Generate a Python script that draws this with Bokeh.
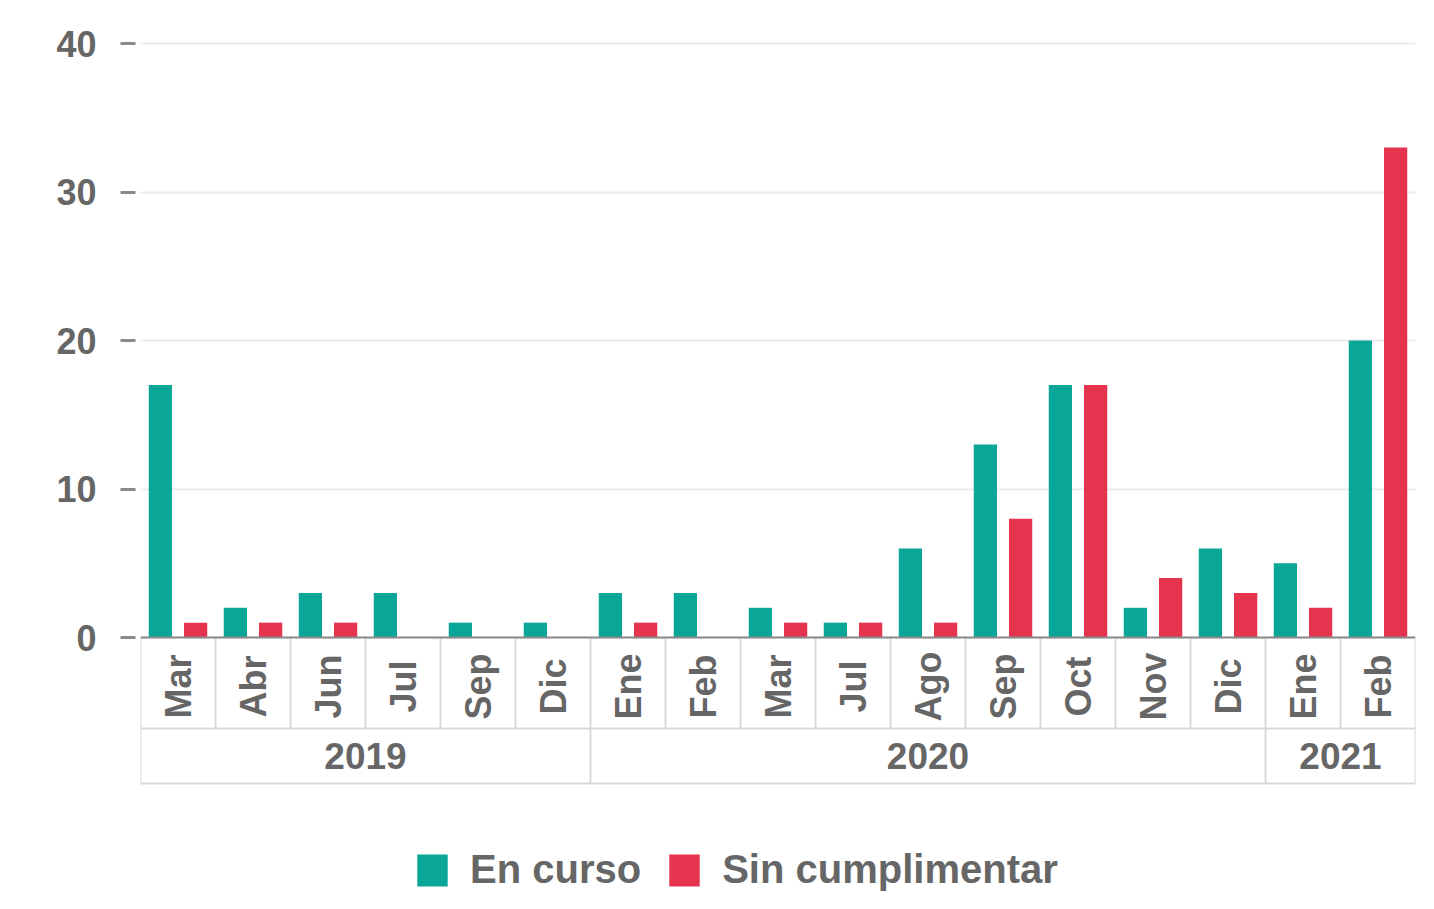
from math import pi
from bokeh.plotting import figure
from bokeh.models import Range1d, FixedTicker, Legend, LegendItem
from bokeh.embed import file_html
from bokeh.resources import INLINE
from bokeh.core.properties import value

# ---- data ----
years = ["2019"] * 6 + ["2020"] * 9 + ["2021"] * 2
months = ["Mar", "Abr", "Jun", "Jul", "Sep", "Dic",
          "Ene", "Feb", "Mar", "Jul", "Ago", "Sep", "Oct", "Nov", "Dic",
          "Ene", "Feb"]
en_curso = [17, 2, 3, 3, 1, 1, 3, 3, 2, 1, 6, 13, 17, 2, 6, 5, 20]
sin_cumplimentar = [1, 1, 1, 0, 0, 0, 1, 0, 1, 1, 1, 8, 17, 4, 3, 2, 33]
y_ticks = [0, 10, 20, 30, 40]
series_names = ["En curso", "Sin cumplimentar"]

# ---- style ----
TEAL = "#0aa798"
RED = "#e5344e"
TXT = "#666666"
FONT = value("Liberation Sans")
PX = 594 / 40.0          # pixels per unit on the y scale
n = len(months)

W, H = 1418, 903
p = figure(width=W, height=H, output_backend="svg", toolbar_location=None,
           x_range=Range1d(0, n),
           y_range=Range1d(-(263 / PX), 40 + 23 / PX),
           x_axis_location=None,
           min_border_left=140, min_border_right=3,
           min_border_top=20, min_border_bottom=3)
p.outline_line_color = None
p.xgrid.visible = False

p.yaxis.ticker = FixedTicker(ticks=y_ticks)
p.yaxis.axis_line_color = None
p.yaxis.major_tick_in = -5
p.yaxis.major_tick_out = 20
p.yaxis.major_tick_line_color = "#8a8a8a"
p.yaxis.major_tick_line_width = 3
p.yaxis.minor_tick_line_color = None
p.yaxis.major_label_standoff = 24
p.yaxis.major_label_text_font = "Liberation Sans"
p.yaxis.major_label_text_font_style = "bold"
p.yaxis.major_label_text_font_size = "36px"
p.yaxis.major_label_text_color = TXT
p.ygrid.ticker = FixedTicker(ticks=y_ticks)
p.ygrid.grid_line_color = "#ebebeb"
p.ygrid.grid_line_width = 2

# ---- bars ----
off, bw = 0.235, 0.31
x_a = [i + 0.5 - off for i in range(n)]
x_b = [i + 0.5 + off for i in range(n)]
r1 = p.vbar(x=x_a, top=en_curso, bottom=0, width=bw, fill_color=TEAL, line_color=None)
r2 = p.vbar(x=x_b, top=sin_cumplimentar, bottom=0, width=bw, fill_color=RED, line_color=None)

# ---- category table below the bars ----
Y_M = -(728 - 637) / PX      # bottom of month row
Y_Y = -(783 - 637) / PX      # bottom of year row
BORDER = "#d9d9d9"

groups = []
start = 0
for i in range(1, n + 1):
    if i == n or years[i] != years[start]:
        groups.append((years[start], start, i))
        start = i

# vertical lines in month row
p.segment(x0=list(range(n + 1)), y0=[0] * (n + 1), x1=list(range(n + 1)), y1=[Y_M] * (n + 1),
          line_color=BORDER, line_width=2)
# vertical lines in year row (group boundaries)
bounds = [g[1] for g in groups] + [n]
p.segment(x0=bounds, y0=[Y_M] * len(bounds), x1=bounds, y1=[Y_Y] * len(bounds),
          line_color=BORDER, line_width=2)
# horizontal lines
p.segment(x0=[0, 0], y0=[Y_M, Y_Y], x1=[n, n], y1=[Y_M, Y_Y], line_color=BORDER, line_width=2)
# baseline
p.segment(x0=[0], y0=[0], x1=[n], y1=[0], line_color="#8a8a8a", line_width=2)

p.text(x=[i + 0.5 for i in range(n)], y=[-(686 - 637) / PX] * n, text=months,
       angle=pi / 2, text_align="center", text_baseline="middle",
       text_font=FONT, text_font_style="bold", text_font_size="36px", text_color=TXT)

p.text(x=[(g[1] + g[2]) / 2 for g in groups], y=[-(755 - 637) / PX] * len(groups),
       text=[g[0] for g in groups], text_align="center", text_baseline="middle",
       text_font=FONT, text_font_style="bold", text_font_size="37px", text_color=TXT)

# ---- legend ----
legend = Legend(items=[LegendItem(label=series_names[0], renderers=[r1]),
                       LegendItem(label=series_names[1], renderers=[r2])],
                orientation="horizontal", location=(273, 8),
                glyph_width=38, glyph_height=40, label_standoff=19, spacing=24,
                padding=0, margin=0, border_line_color=None, background_fill_alpha=0,
                label_text_font="Liberation Sans", label_text_font_style="bold",
                label_text_font_size="40px", label_text_color=TXT)
p.add_layout(legend)

open("out.html", "w").write(file_html(p, INLINE))
